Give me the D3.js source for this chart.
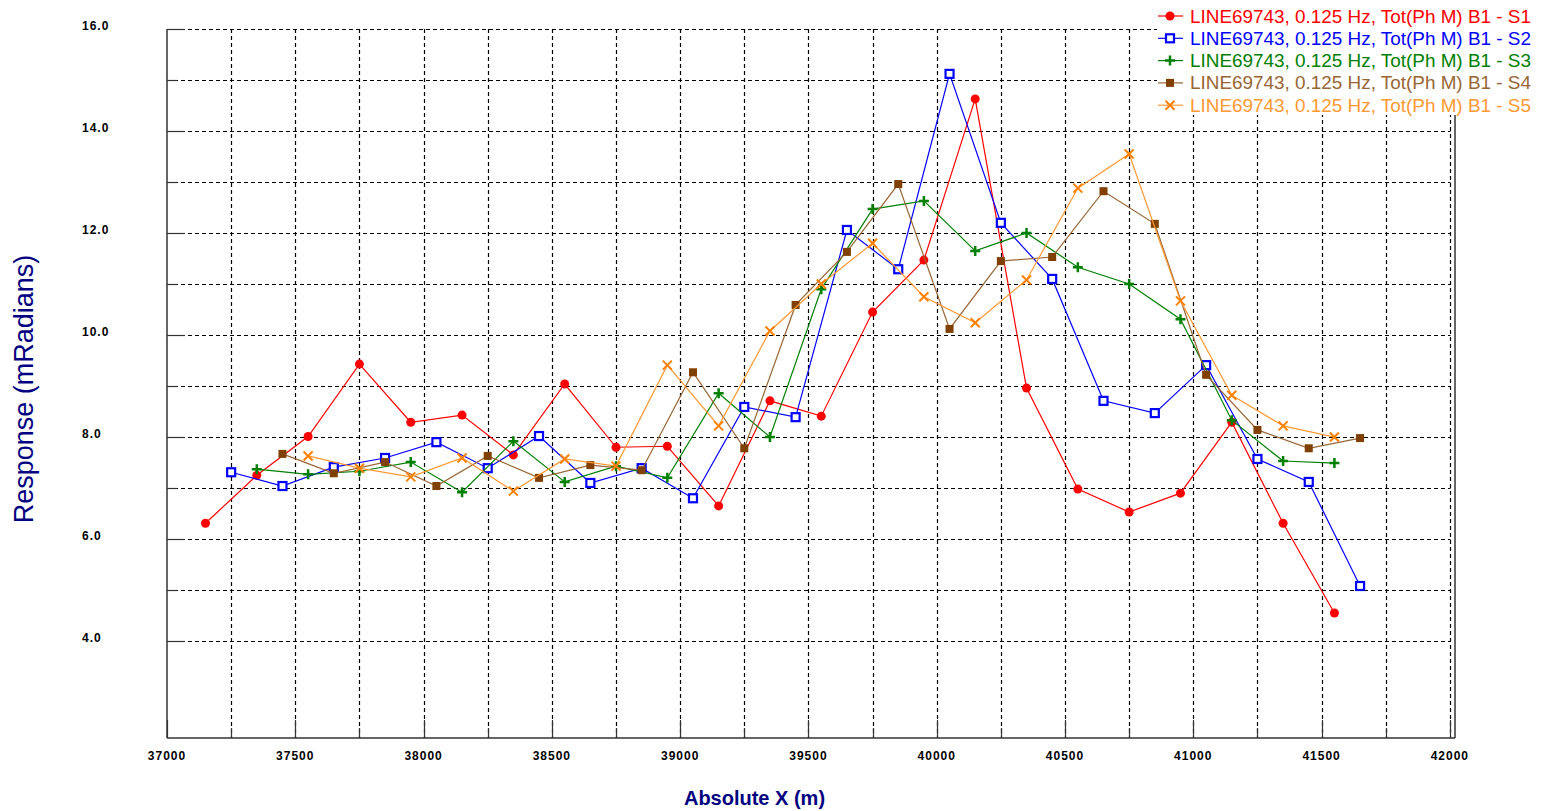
<!DOCTYPE html>
<html><head><meta charset="utf-8">
<script src="https://cdn.jsdelivr.net/npm/d3@7"></script>
<style>html,body{margin:0;padding:0;background:#fff;overflow:hidden}</style>
</head><body>
<svg id="c" width="1543" height="811"></svg>
<script>
// ---- data ----
const seriesNames = ["LINE69743, 0.125 Hz, Tot(Ph M) B1 - S1","LINE69743, 0.125 Hz, Tot(Ph M) B1 - S2","LINE69743, 0.125 Hz, Tot(Ph M) B1 - S3","LINE69743, 0.125 Hz, Tot(Ph M) B1 - S4","LINE69743, 0.125 Hz, Tot(Ph M) B1 - S5"];
const s1X = [37150,37350,37550,37750,37950,38150,38350,38550,38750,38950,39150,39350,39550,39750,39950,40150,40350,40550,40750,40950,41150,41350,41550];
const s1Y = [6.31,7.25,8.01,9.43,8.29,8.43,7.65,9.04,7.80,7.82,6.65,8.71,8.41,10.45,11.47,14.63,8.96,6.98,6.53,6.90,8.29,6.31,4.55];
const s2X = [37250,37450,37650,37850,38050,38250,38450,38650,38850,39050,39250,39450,39650,39850,40050,40250,40450,40650,40850,41050,41250,41450,41650];
const s2Y = [7.31,7.04,7.41,7.59,7.90,7.39,8.02,7.10,7.39,6.80,8.59,8.39,12.06,11.29,15.12,12.20,11.10,8.71,8.47,9.41,7.57,7.12,5.08];
const s3X = [37350,37550,37750,37950,38150,38350,38550,38750,38950,39150,39350,39550,39750,39950,40150,40350,40550,40750,40950,41150,41350,41550];
const s3Y = [7.37,7.27,7.33,7.51,6.92,7.92,7.12,7.43,7.20,8.86,8.00,10.90,12.47,12.63,11.65,12.00,11.33,11.00,10.31,8.33,7.53,7.49];
const s4X = [37450,37650,37850,38050,38250,38450,38650,38850,39050,39250,39450,39650,39850,40050,40250,40450,40650,40850,41050,41250,41450,41650];
const s4Y = [7.67,7.29,7.51,7.04,7.63,7.20,7.45,7.35,9.27,7.78,10.59,11.63,12.96,10.12,11.45,11.53,12.82,12.18,9.22,8.14,7.78,7.98];
const s5X = [37550,37750,37950,38150,38350,38550,38750,38950,39150,39350,39550,39750,39950,40150,40350,40550,40750,40950,41150,41350,41550];
const s5Y = [7.63,7.39,7.22,7.59,6.94,7.57,7.43,9.41,8.22,10.08,11.00,11.80,10.75,10.24,11.08,12.88,13.55,10.67,8.82,8.22,8.00];
const xTickLabels = [37000,37500,38000,38500,39000,39500,40000,40500,41000,41500,42000];
const yTickLabels = [4,6,8,10,12,14,16];

// ---- styles ----
const styles = [
  {line:"#ff0000", mark:"#ff0000", text:"#ff0000", shape:"circle"},
  {line:"#0000ff", mark:"#0000ff", text:"#0000ff", shape:"osquare"},
  {line:"#008000", mark:"#008000", text:"#008000", shape:"plus"},
  {line:"#996633", mark:"#804000", text:"#996633", shape:"fsquare"},
  {line:"#ff9933", mark:"#ff8000", text:"#ff9933", shape:"cross"}
];
const series = [[s1X,s1Y],[s2X,s2Y],[s3X,s3Y],[s4X,s4Y],[s5X,s5Y]].map((d,i)=>({
  name: seriesNames[i], style: styles[i], pts: d[0].map((x,j)=>({x, y:d[1][j]}))
}));

const svg = d3.select("#c");
const L=167, R=1455, T=29, B=738;
const x = d3.scaleLinear().domain([37000, 42020]).range([L, R]);
const y = d3.scaleLinear().domain([2.1, 16]).range([B, T]);

const grid = svg.append("g");
const vg = d3.range(37250, 42001, 250);
grid.selectAll("line.v").data(vg).join("line")
  .attr("x1",d=>Math.round(x(d))+0.5).attr("x2",d=>Math.round(x(d))+0.5)
  .attr("y1",T).attr("y2",B)
  .attr("stroke","#000").attr("stroke-width",1.2).attr("stroke-dasharray","4,3");
const hg = d3.range(4, 16.01, 1);
grid.selectAll("line.h").data(hg).join("line")
  .attr("x1",L).attr("x2",Math.round(x(42000))+0.5)
  .attr("y1",d=>Math.round(y(d))+0.5).attr("y2",d=>Math.round(y(d))+0.5)
  .attr("stroke","#000").attr("stroke-width",1.2).attr("stroke-dasharray","4,3");

const fr = svg.append("g").attr("stroke","#333").attr("stroke-width",1.5).attr("fill","none");
fr.append("line").attr("x1",L).attr("x2",L).attr("y1",T).attr("y2",B);
fr.append("line").attr("x1",L).attr("x2",R).attr("y1",B).attr("y2",B);
fr.append("line").attr("x1",R).attr("x2",R).attr("y1",T).attr("y2",B);
fr.selectAll("line.xt").data(vg.concat([37000])).join("line")
  .attr("x1",d=>Math.round(x(d))+0.5).attr("x2",d=>Math.round(x(d))+0.5)
  .attr("y1",B).attr("y2",d=>B-((d%500===0)?18:10)).attr("stroke-width",1.2);
fr.selectAll("line.yt").data(hg).join("line")
  .attr("y1",d=>Math.round(y(d))+0.5).attr("y2",d=>Math.round(y(d))+0.5)
  .attr("x1",L).attr("x2",d=>L+((d%2===0)?18:10)).attr("stroke-width",1.2);

const lab = svg.append("g").attr("font-family","'Liberation Sans', Arial, sans-serif")
  .attr("font-weight","bold").attr("font-size","12px").attr("fill","#000").attr("letter-spacing","1px");
lab.selectAll("text.x").data(xTickLabels).join("text")
  .attr("x",d=>x(d)).attr("y",760).attr("text-anchor","middle").text(d=>d);
lab.selectAll("text.y").data(yTickLabels).join("text")
  .attr("x",82).attr("y",d=>y(d)+0.5).attr("text-anchor","start").text(d=>d.toFixed(1));

svg.append("text").attr("x",754.5).attr("y",805).attr("text-anchor","middle")
  .attr("font-family","'Liberation Sans', Arial, sans-serif").attr("font-weight","bold")
  .attr("font-size","20px").attr("fill","#000080").text("Absolute X (m)");
svg.append("text").attr("transform","translate(33,389) rotate(-90)").attr("text-anchor","middle")
  .attr("font-family","'Liberation Sans', Arial, sans-serif")
  .attr("font-size","27px").attr("fill","#000080").text("Response (mRadians)");

function drawMarker(g, shape, color, cx, cy){
  if(shape==="circle"){
    g.append("circle").attr("cx",cx).attr("cy",cy).attr("r",4.5).attr("fill",color);
  } else if(shape==="osquare"){
    g.append("rect").attr("x",cx-4).attr("y",cy-4).attr("width",8).attr("height",8)
      .attr("fill","#fff").attr("stroke",color).attr("stroke-width",2.2);
  } else if(shape==="fsquare"){
    g.append("rect").attr("x",cx-4).attr("y",cy-4).attr("width",8).attr("height",8).attr("fill",color);
  } else if(shape==="plus"){
    g.append("path").attr("d",`M${cx-5},${cy}H${cx+5}M${cx},${cy-5}V${cy+5}`)
      .attr("stroke",color).attr("stroke-width",2.5).attr("fill","none");
  } else if(shape==="cross"){
    g.append("path").attr("d",`M${cx-4.5},${cy-4.5}L${cx+4.5},${cy+4.5}M${cx-4.5},${cy+4.5}L${cx+4.5},${cy-4.5}`)
      .attr("stroke",color).attr("stroke-width",2).attr("fill","none");
  }
}

const line = d3.line().x(d=>x(d.x)).y(d=>y(d.y));
series.forEach(s=>{
  const g = svg.append("g");
  g.append("path").datum(s.pts).attr("d",line).attr("fill","none")
    .attr("stroke",s.style.line).attr("stroke-width",1.2);
  s.pts.forEach(p=>drawMarker(g, s.style.shape, s.style.mark, x(p.x), y(p.y)));
});

const lg = svg.append("g");
lg.append("rect").attr("x",1157).attr("y",0).attr("width",386).attr("height",115).attr("fill","#fff");
series.forEach((s,i)=>{
  const cy = 16 + i*22.3;
  lg.append("line").attr("x1",1158).attr("x2",1183).attr("y1",cy).attr("y2",cy)
    .attr("stroke",s.style.line).attr("stroke-width",1.2);
  drawMarker(lg, s.style.shape, s.style.mark, 1170, cy);
  lg.append("text").attr("x",1190).attr("y",cy+6.5)
    .attr("font-family","'Liberation Sans', Arial, sans-serif").attr("font-size","18.9px")
    .attr("fill",s.style.text).text(s.name);
});
</script>
</body></html>
